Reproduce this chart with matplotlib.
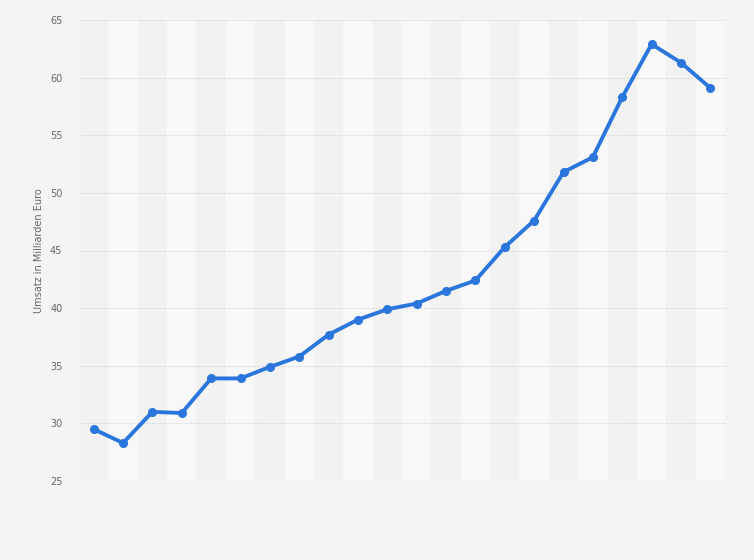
import numpy as np
import matplotlib.pyplot as plt

# revenue in billion euro, one value per (unlabelled) period
umsatz = [29.5, 28.3, 31.0, 30.9, 33.9, 33.9, 34.9, 35.8, 37.7, 39.0, 39.9,
          40.4, 41.5, 42.4, 45.3, 47.6, 51.8, 53.1, 58.3, 62.9, 61.3, 59.1]
y_ticks = [25, 30, 35, 40, 45, 50, 55, 60, 65]
y_label = "Umsatz in Milliarden Euro"

fig = plt.figure(figsize=(7.54, 5.6), dpi=100)
fig.patch.set_facecolor("#f4f4f4")
ax = fig.add_axes([79 / 754, 1 - 481 / 560, 646 / 754, 461 / 560])
ax.set_facecolor("#f4f4f4")

x = np.arange(len(umsatz))

# alternating column bands
for i in x:
    col = "#f8f8f8" if i % 2 else "#f2f2f2"
    ax.axvspan(i - 0.5, i + 0.5, color=col, zorder=0, lw=0)

ax.plot(x, umsatz, color="#2a76dd", lw=2.8, marker="o", ms=5.5,
        solid_joinstyle="round", zorder=3)

ax.set_xlim(-0.5, len(umsatz) - 0.5)
ax.set_ylim(25, 65)
ax.set_yticks(y_ticks)
ax.set_xticks([])
ax.grid(axis="y", color="#cfcfcf", ls=(0, (1, 1.5)), lw=0.8, zorder=1)
ax.set_axisbelow(False)
for s in ax.spines.values():
    s.set_visible(False)
ax.tick_params(axis="y", length=0, pad=12, labelsize=7, labelcolor="#666666")
ax.set_ylabel(y_label, fontsize=7, color="#666666")
ax.yaxis.set_label_coords(-35 / 646, 0.5)

fig.savefig("out.png", dpi=100, facecolor=fig.get_facecolor())
